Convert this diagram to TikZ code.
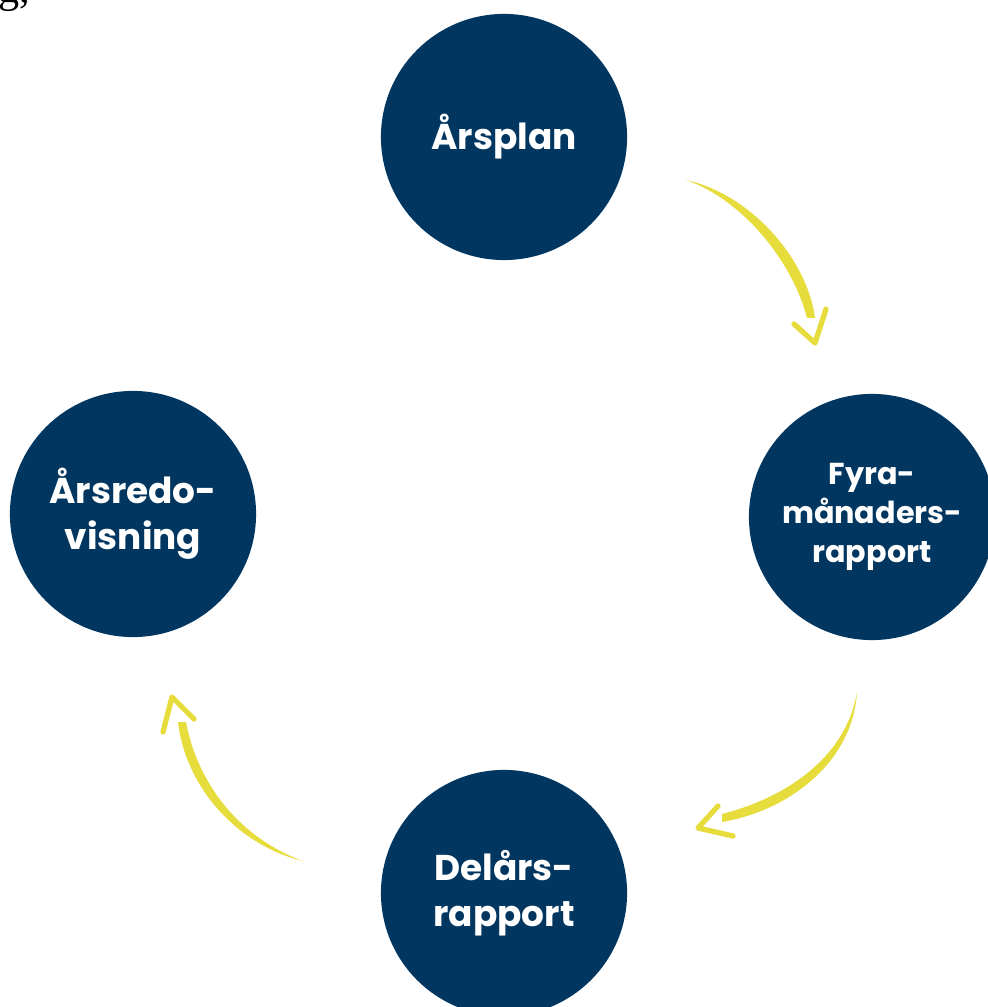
\documentclass[tikz,border=0pt]{standalone}
\usepackage{fontspec}
\setmainfont{Poppins}
\newfontfamily\cutfont{Liberation Serif}
\usetikzlibrary{positioning}
\definecolor{navy}{HTML}{00365F}
\definecolor{lemon}{HTML}{E6DC3C}

\tikzset{
  stage/.style={shape=circle, fill=navy, minimum size=2.46cm, inner sep=0pt, text=white, align=center, font=\bfseries\fontsize{10.2}{13}\selectfont},
  smallstage/.style={stage, font=\bfseries\fontsize{8.6}{11.2}\selectfont},
  yellowtip/.style={draw=lemon, line width=1.5pt, line cap=round, line join=round},
}

\begin{document}
\begin{tikzpicture}[x=0.01cm, y=-0.01cm]
        \useasboundingbox (0,0) rectangle (987,1007);

        % cut-off text at the top
        \node (cut) at (-2,-4) [anchor=west, inner sep=0pt, font=\cutfont\fontsize{12}{14}\selectfont] {g,};

        % stages
        \node (plan) at (504,137) [stage] {Årsplan};
        \node (fyra) at (872,517) [smallstage] {Fyra-\\månaders-\\rapport};
        \node (delar) at (504,893) [stage] {Delårs-\\rapport};
        \node (redo) at (133,514) [stage] {Årsredo-\\visning};

        % arrow ends
        \coordinate (a1s) at (686,180);
        \coordinate (a1e) at (812,318);
        \coordinate (a1t) at (815,343);
        \coordinate (a2s) at (857,692);
        \coordinate (a2e) at (722,819);
        \coordinate (a2t) at (698,828);
        \coordinate (a3s) at (303,861);
        \coordinate (a3e) at (181,722);
        \coordinate (a3t) at (172,697);

        % arrows
        \fill[lemon] (a1s) .. controls (750,194) and (807,258) .. ([xshift=0.03cm]a1e) -- ([xshift=-0.05cm]a1e) .. controls (794,266) and (746,201) .. (a1s) -- cycle;
        \draw[yellowtip] (794,324) -- (a1t) -- (826,309);

        \fill[lemon] (a2s) .. controls (853,760) and (792,810) .. ([yshift=-0.03cm]a2e) -- ([yshift=0.05cm]a2e) .. controls (785,798) and (846,758) .. (a2s) -- cycle;
        \draw[yellowtip] (718,806) -- (a2t) -- (733,836);

        \fill[lemon] (a3s) .. controls (240,846) and (186,790) .. ([xshift=-0.03cm]a3e) -- ([xshift=0.05cm]a3e) .. controls (198,786) and (242,839) .. (a3s) -- cycle;
        \draw[yellowtip] (163,732) -- (a3t) -- (194,719);
\end{tikzpicture}
\end{document}
